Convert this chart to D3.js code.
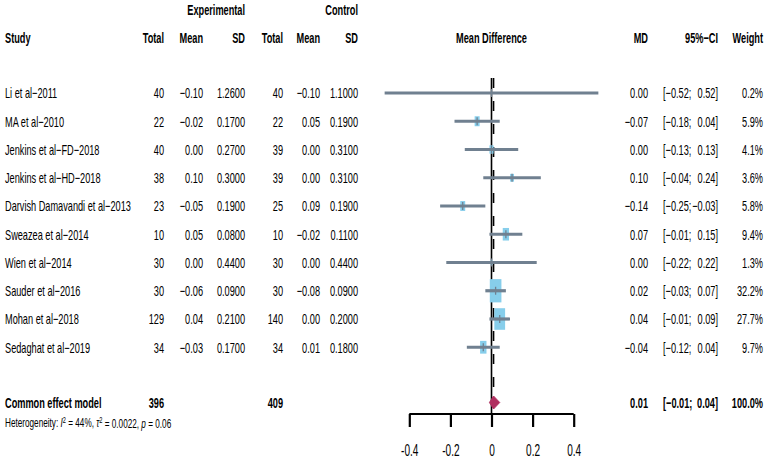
<!DOCTYPE html>
<html><head><meta charset="utf-8">
<script src="https://cdn.jsdelivr.net/npm/d3@7"></script>
<style>html,body{margin:0;padding:0;background:#fff}svg{display:block}</style>
</head><body>
<script>
const studies = ["Li et al\u22122011","MA et al\u22122010","Jenkins et al\u2212FD\u22122018","Jenkins et al\u2212HD\u22122018","Darvish Damavandi et al\u22122013","Sweazea et al\u22122014","Wien et al\u22122014","Sauder et al\u22122016","Mohan et al\u22122018","Sedaghat et al\u22122019"];
const expTotal = [40,22,40,38,23,10,30,30,129,34];
const expMean  = [-0.10,-0.02,0.00,0.10,-0.05,0.05,0.00,-0.06,0.04,-0.03];
const expSD    = [1.26,0.17,0.27,0.30,0.19,0.08,0.44,0.09,0.21,0.17];
const ctlTotal = [40,22,39,39,25,10,30,30,140,34];
const ctlMean  = [-0.10,0.05,0.00,0.00,0.09,-0.02,0.00,-0.08,0.00,0.01];
const ctlSD    = [1.10,0.19,0.31,0.31,0.19,0.11,0.44,0.09,0.20,0.18];
const md       = [0.00,-0.07,0.00,0.10,-0.14,0.07,0.00,0.02,0.04,-0.04];
const lower    = [-0.52,-0.18,-0.13,-0.04,-0.25,-0.01,-0.22,-0.03,-0.01,-0.12];
const upper    = [0.52,0.04,0.13,0.24,-0.03,0.15,0.22,0.07,0.09,0.04];
const weight   = [0.2,5.9,4.1,3.6,5.8,9.4,1.3,32.2,27.7,9.7];
const pooledLabel = "Common effect model";
const pooledExpTotal = 396, pooledCtlTotal = 409;
const pooledMD = 0.01, pooledLower = -0.01, pooledUpper = 0.04, pooledWeight = 100.0;
const tickValues = [-0.4,-0.2,0,0.2,0.4];
const tickLabels = ["-0.4","-0.2","0","0.2","0.4"];
const heterogeneity = {I2:"44%", tau2:"0.0022", p:"0.06"};

const W = 767, H = 459;
const SX = 0.63;
const FS = 14.6;
const FONT = "'Liberation Sans', Arial, sans-serif";
const svg = d3.select("body").append("svg").attr("width", W).attr("height", H);
svg.append("rect").attr("width", W).attr("height", H).attr("fill", "#fff");

const x = d3.scaleLinear().domain([-0.4, 0.4]).range([409.3, 573.7]);
const y = d3.scaleLinear().domain([0, 1]).range([93, 121.25]);
const pooledY = 402.5;

const fmt2 = d3.format(".2f"), fmt4 = d3.format(".4f"), fmt1 = d3.format(".1f");
const minus = s => s.replace(/-/g, "\u2212");
const f2 = v => minus(fmt2(v));
const f4 = v => minus(fmt4(v));

function txt(xp, yp, s, anchor, bold, size) {
  return svg.append("text")
    .attr("transform", `translate(${xp},${yp}) scale(${SX},1)`)
    .attr("x", 0).attr("y", 0).attr("dy", "0.36em")
    .attr("text-anchor", anchor || "start")
    .attr("font-family", FONT)
    .attr("font-size", size || FS)
    .attr("font-weight", bold ? "bold" : "normal")
    .attr("fill", "#000")
    .text(s);
}

const col = {study:5, eT:164, eM:203, eS:245, cT:283, cM:320, cS:358, md:648, ciL:663, ciR:718, w:763};

// headers
txt(col.eS, 10, "Experimental", "end", true);
txt(col.cS, 10, "Control", "end", true);
const hy = 38;
txt(col.study, hy, "Study", "start", true);
txt(col.eT, hy, "Total", "end", true);
txt(col.eM, hy, "Mean", "end", true);
txt(col.eS, hy, "SD", "end", true);
txt(col.cT, hy, "Total", "end", true);
txt(col.cM, hy, "Mean", "end", true);
txt(col.cS, hy, "SD", "end", true);
txt(x(0), hy, "Mean Difference", "middle", true);
txt(col.md, hy, "MD", "end", true);
txt(col.ciR, hy, "95%\u2212CI", "end", true);
txt(col.w, hy, "Weight", "end", true);

// reference lines
svg.append("line").attr("x1", x(pooledMD)).attr("x2", x(pooledMD))
  .attr("y1", 78).attr("y2", pooledY - 6)
  .attr("stroke", "#000").attr("stroke-width", 1.6).attr("stroke-dasharray", "10,13");
svg.append("line").attr("x1", x(0)).attr("x2", x(0))
  .attr("y1", 78).attr("y2", 414)
  .attr("stroke", "#000").attr("stroke-width", 1.6);

// study rows
studies.forEach((s, i) => {
  const yy = y(i);
  txt(col.study, yy, s, "start", false);
  txt(col.eT, yy, String(expTotal[i]), "end");
  txt(col.eM, yy, f2(expMean[i]), "end");
  txt(col.eS, yy, f4(expSD[i]), "end");
  txt(col.cT, yy, String(ctlTotal[i]), "end");
  txt(col.cM, yy, f2(ctlMean[i]), "end");
  txt(col.cS, yy, f4(ctlSD[i]), "end");
  txt(col.md, yy, f2(md[i]), "end");
  txt(col.ciL, yy, "[" + f2(lower[i]) + ";", "start");
  txt(col.ciR, yy, f2(upper[i]) + "]", "end");
  txt(col.w, yy, fmt1(weight[i]) + "%", "end");

  const hgt = 4.1 * Math.sqrt(weight[i]);
  const wid = hgt * 0.5;
  svg.append("rect")
    .attr("x", x(md[i]) - wid / 2).attr("y", yy - hgt / 2)
    .attr("width", wid).attr("height", hgt)
    .attr("fill", "#87CEEB");
  svg.append("line")
    .attr("x1", x(lower[i])).attr("x2", x(upper[i]))
    .attr("y1", yy).attr("y2", yy)
    .attr("stroke", "#708090").attr("stroke-width", 3.2);
  svg.append("line")
    .attr("x1", x(md[i])).attr("x2", x(md[i]))
    .attr("y1", yy - 4).attr("y2", yy + 4)
    .attr("stroke", "#708090").attr("stroke-width", 1.3);
});

// pooled row
txt(col.study, pooledY, pooledLabel, "start", true);
txt(col.eT, pooledY, String(pooledExpTotal), "end", true);
txt(col.cT, pooledY, String(pooledCtlTotal), "end", true);
txt(col.md, pooledY, f2(pooledMD), "end", true);
txt(col.ciL, pooledY, "[" + f2(pooledLower) + ";", "start", true);
txt(col.ciR, pooledY, f2(pooledUpper) + "]", "end", true);
txt(col.w, pooledY, fmt1(pooledWeight) + "%", "end", true);
const dh = 6.5;
svg.append("path")
  .attr("d", `M${x(pooledLower)},${pooledY} L${x(pooledMD)},${pooledY - dh} L${x(pooledUpper)},${pooledY} L${x(pooledMD)},${pooledY + dh} Z`)
  .attr("fill", "#B03060").attr("stroke", "#B03060").attr("stroke-width", 1);

// heterogeneity
const ht = svg.append("text")
  .attr("transform", `translate(5,422) scale(${SX},1)`)
  .attr("dy", "0.36em").attr("font-family", FONT).attr("font-size", 13).attr("fill", "#000");
ht.append("tspan").text("Heterogeneity: ");
ht.append("tspan").attr("font-style", "italic").text("I");
ht.append("tspan").attr("font-size", 9).attr("dy", "-0.45em").text("2");
ht.append("tspan").attr("dy", "0.35em").text(" = " + heterogeneity.I2 + ", ");
ht.append("tspan").attr("font-style", "italic").text("\u03C4");
ht.append("tspan").attr("font-size", 9).attr("dy", "-0.45em").text("2");
ht.append("tspan").attr("dy", "0.35em").text(" = " + heterogeneity.tau2 + ", ");
ht.append("tspan").attr("font-style", "italic").text("p");
ht.append("tspan").text(" = " + heterogeneity.p);

// axis
const axisY = 414;
const ax = svg.append("g").attr("transform", `translate(0,${axisY})`)
  .call(d3.axisBottom(x).tickValues(tickValues).tickSize(13).tickSizeOuter(0).tickFormat((d, i) => tickLabels[i]));
ax.select(".domain").attr("stroke", "#000").attr("stroke-width", 2.2).attr("d", `M${x(-0.4)},0H${x(0.4)}`);
ax.selectAll(".tick line").attr("stroke", "#000").attr("stroke-width", 2.2);
ax.selectAll(".tick text")
  .attr("y", 0).attr("dy", "0.36em")
  .attr("transform", `translate(0,36) scale(${SX},1)`)
  .attr("font-family", FONT).attr("font-size", 16).attr("fill", "#000");
</script>
</body></html>
